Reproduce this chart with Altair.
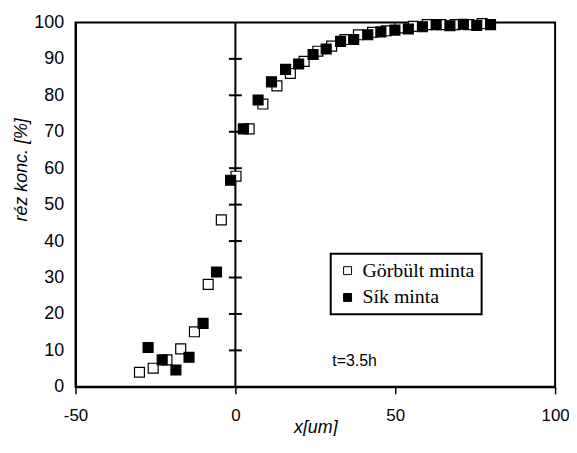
import altair as alt
import pandas as pd

series_names = ["Görbült minta", "Sík minta"]

gorbult_x = [-30.0, -25.7, -21.4, -17.1, -12.8, -8.5, -4.4, 0.2, 4.3, 8.6, 13.0, 17.2, 21.5,
             25.8, 30.1, 34.3, 38.5, 42.9, 47.2, 51.5, 55.7, 60.0, 64.3, 68.7, 72.9, 77.2]
gorbult_y = [4.0, 5.1, 7.4, 10.4, 15.1, 28.1, 45.8, 57.8, 70.8, 77.6, 82.6, 86.0, 89.3,
             92.1, 93.5, 95.3, 96.6, 97.3, 97.7, 98.5, 98.9, 99.4, 99.4, 99.4, 99.4, 99.7]

sik_x = [-27.3, -22.9, -18.6, -14.5, -10.1, -5.9, -1.5, 2.5, 7.1, 11.3, 15.7, 19.8, 24.3,
         28.4, 32.9, 37.0, 41.4, 45.5, 49.9, 54.1, 58.5, 62.8, 67.1, 71.3, 75.5, 79.8]
sik_y = [10.8, 7.4, 4.6, 8.1, 17.4, 31.5, 56.7, 70.8, 78.7, 83.7, 87.1, 88.6, 91.2,
         92.7, 94.8, 95.3, 96.6, 97.4, 97.9, 98.2, 98.8, 99.4, 99.1, 99.5, 99.2, 99.4]

x_ticks = [-50, 0, 50, 100]
y_ticks = [0, 10, 20, 30, 40, 50, 60, 70, 80, 90, 100]
cross_ticks = [10, 20, 30, 40, 50, 60, 70, 80, 90]

note_text = ["t=3.5h"]
note_x = [30.3]
note_y = [7.0]

df = pd.DataFrame({
    "x": gorbult_x + sik_x,
    "y": gorbult_y + sik_y,
    "minta": [series_names[0]] * len(gorbult_x) + [series_names[1]] * len(sik_x),
})
ticks_df = pd.DataFrame({"x": [0] * len(cross_ticks), "y": cross_ticks})
zero_df = pd.DataFrame({"x": [0]})
note_df = pd.DataFrame({"x": note_x, "y": note_y, "t": note_text})

xscale = alt.Scale(domain=[-50, 100], nice=False)
yscale = alt.Scale(domain=[0, 100], nice=False)

xaxis = alt.Axis(values=x_ticks, grid=False, domainColor="black", domainWidth=2,
                 tickColor="black", tickWidth=1.5, tickSize=7, labelPadding=14,
                 labelFlush=False, labelOverlap=False, labelExpr="'' + datum.value",
                 labelFont="Liberation Sans", labelFontSize=17, labelColor="black",
                 title="x[um]", titleFont="Liberation Sans", titleFontSize=18,
                 titleFontStyle="italic", titleFontWeight="normal", titleColor="black",
                 titleY=41, titleBaseline="middle")
yaxis = alt.Axis(values=y_ticks, grid=False, domainColor="black", domainWidth=2,
                 ticks=False, labelPadding=12, labelOverlap=False, labelFlush=False,
                 labelFont="Liberation Sans", labelFontSize=18, labelColor="black",
                 title="réz konc. [%]", titleFont="Liberation Sans", titleFontSize=18,
                 titleFontStyle="italic", titleFontWeight="normal", titleColor="black",
                 titleX=-54, titleY=148, titleAlign="center", titleBaseline="middle")

zero_line = alt.Chart(zero_df).mark_rule(color="black", strokeWidth=2).encode(
    x=alt.X("x:Q", scale=xscale, axis=xaxis)
)

cross = alt.Chart(ticks_df).mark_tick(orient="horizontal", size=13, thickness=2,
                                       color="black", opacity=1).encode(
    x=alt.X("x:Q", scale=xscale, axis=xaxis),
    y=alt.Y("y:Q", scale=yscale, axis=yaxis),
)

points = alt.Chart(df).mark_point(shape="square", filled=True, stroke="black",
                                  strokeWidth=1.2, size=100, opacity=1).encode(
    x=alt.X("x:Q", scale=xscale, axis=xaxis),
    y=alt.Y("y:Q", scale=yscale, axis=yaxis),
    fill=alt.Fill("minta:N",
                  scale=alt.Scale(domain=series_names, range=["white", "black"]),
                  legend=alt.Legend(title=None, orient="none", legendX=257, legendY=233,
                                    strokeColor="black", fillColor="white", padding=7,
                                    labelFont="Liberation Serif", labelFontSize=20,
                                    labelColor="black", symbolType="square",
                                    symbolSize=64, symbolStrokeColor="black",
                                    symbolStrokeWidth=1, rowPadding=7, labelOffset=5)),
)

note = alt.Chart(note_df).mark_text(align="left", baseline="middle", font="Liberation Sans",
                                    fontSize=16, color="black").encode(
    x=alt.X("x:Q", scale=xscale, axis=xaxis),
    y=alt.Y("y:Q", scale=yscale, axis=yaxis),
    text="t:N",
)

chart = alt.layer(zero_line, cross, points, note).properties(
    width=483, height=367,
    autosize=alt.AutoSizeParams(type="none"),
    padding={"left": 68, "top": 13, "right": 14, "bottom": 48},
).configure_view(stroke="black", strokeWidth=2).configure_legend(strokeWidth=2)

chart.save("out.html", embed_options={"renderer": "svg", "actions": False})
